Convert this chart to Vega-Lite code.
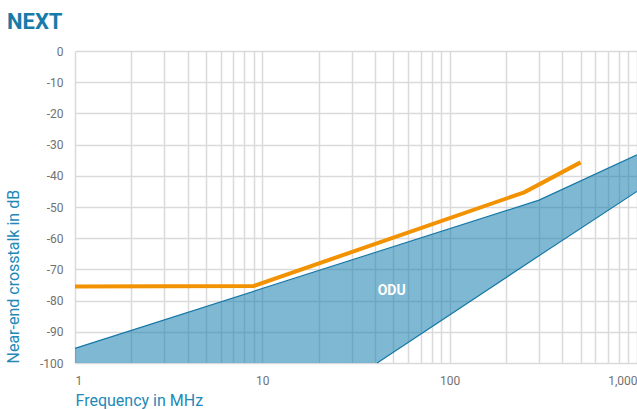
{
  "$schema": "https://vega.github.io/schema/vega-lite/v6.json",
  "autosize": "none",
  "width": 562,
  "height": 312,
  "padding": {"left": 75, "top": 51, "right": 0, "bottom": 46},
  "background": "white",
  "title": {
    "text": "NEXT",
    "anchor": "start",
    "frame": "bounds",
    "font": "Roboto",
    "fontSize": 22,
    "fontWeight": "bold",
    "color": "#167ba9",
    "offset": 11,
    "dx": 2
  },
  "config": {
    "view": {"stroke": null},
    "axis": {
      "grid": true,
      "gridColor": "#dadada",
      "gridWidth": 1.5,
      "domain": false,
      "ticks": false,
      "labelFont": "Roboto",
      "labelFontSize": 12,
      "labelColor": "#717171",
      "titleFont": "Roboto",
      "titleFontSize": 16,
      "titleFontWeight": "normal",
      "titleColor": "#2289b8"
    }
  },
  "datasets": {
    "band": [
      {"f": 1, "v": -95.3, "v2": -100},
      {"f": 41, "v": -64.5, "v2": -100},
      {"f": 300, "v": -47.8, "v2": -65.6},
      {"f": 1000, "v": -33.3, "v2": -45}
    ],
    "upper": [
      {"f": 1, "v": -95.3},
      {"f": 300, "v": -47.8},
      {"f": 1000, "v": -33.3}
    ],
    "lower": [
      {"f": 41, "v": -100},
      {"f": 300, "v": -65.6},
      {"f": 1000, "v": -45}
    ],
    "odu": [
      {"f": 1, "v": -75.5},
      {"f": 9, "v": -75.3},
      {"f": 250, "v": -45.3},
      {"f": 500, "v": -35.7}
    ],
    "label": [
      {"f": 49, "v": -77, "t": "ODU"}
    ]
  },
  "encoding": {
    "x": {
      "field": "f",
      "type": "quantitative",
      "scale": {"type": "log", "domain": [1, 1000], "nice": false},
      "axis": {
        "title": "Frequency in MHz",
        "titleAnchor": "start",
        "titleAlign": "left",
        "titlePadding": 6,
        "values": [1,2,3,4,5,6,7,8,9,10,20,30,40,50,60,70,80,90,100,200,300,400,500,600,700,800,900,1000],
        "format": ",",
        "labelExpr": "(datum.value == 1 || datum.value == 10 || datum.value == 100 || datum.value == 1000) ? datum.label : ''",
        "labelFlush": true,
        "labelOverlap": false,
        "labelPadding": 12
      }
    },
    "y": {
      "field": "v",
      "type": "quantitative",
      "scale": {"domain": [-100, 0], "nice": false, "zero": false},
      "axis": {
        "title": "Near-end crosstalk in dB",
        "values": [-100,-90,-80,-70,-60,-50,-40,-30,-20,-10,0],
        "labelExpr": "'' + datum.value",
        "labelPadding": 12,
        "titleAnchor": "start",
        "titleAlign": "left",
        "titleAngle": 270,
        "titleBaseline": "middle",
        "titleX": -62,
        "titleY": 312
      }
    }
  },
  "layer": [
    {
      "data": {"name": "band"},
      "mark": {"type": "area", "color": "#167ead", "opacity": 0.55},
      "encoding": {"y2": {"field": "v2"}}
    },
    {
      "data": {"name": "upper"},
      "mark": {"type": "line", "color": "#1577a6", "strokeWidth": 1.2},
      "encoding": {}
    },
    {
      "data": {"name": "lower"},
      "mark": {"type": "line", "color": "#1577a6", "strokeWidth": 1.2},
      "encoding": {}
    },
    {
      "data": {"name": "odu"},
      "mark": {"type": "line", "color": "#f39200", "strokeWidth": 4},
      "encoding": {}
    },
    {
      "data": {"name": "label"},
      "mark": {"type": "text", "color": "white", "font": "Roboto", "fontSize": 14, "fontWeight": "bold", "align": "center", "baseline": "middle"},
      "encoding": {"text": {"field": "t"}}
    }
  ]
}
